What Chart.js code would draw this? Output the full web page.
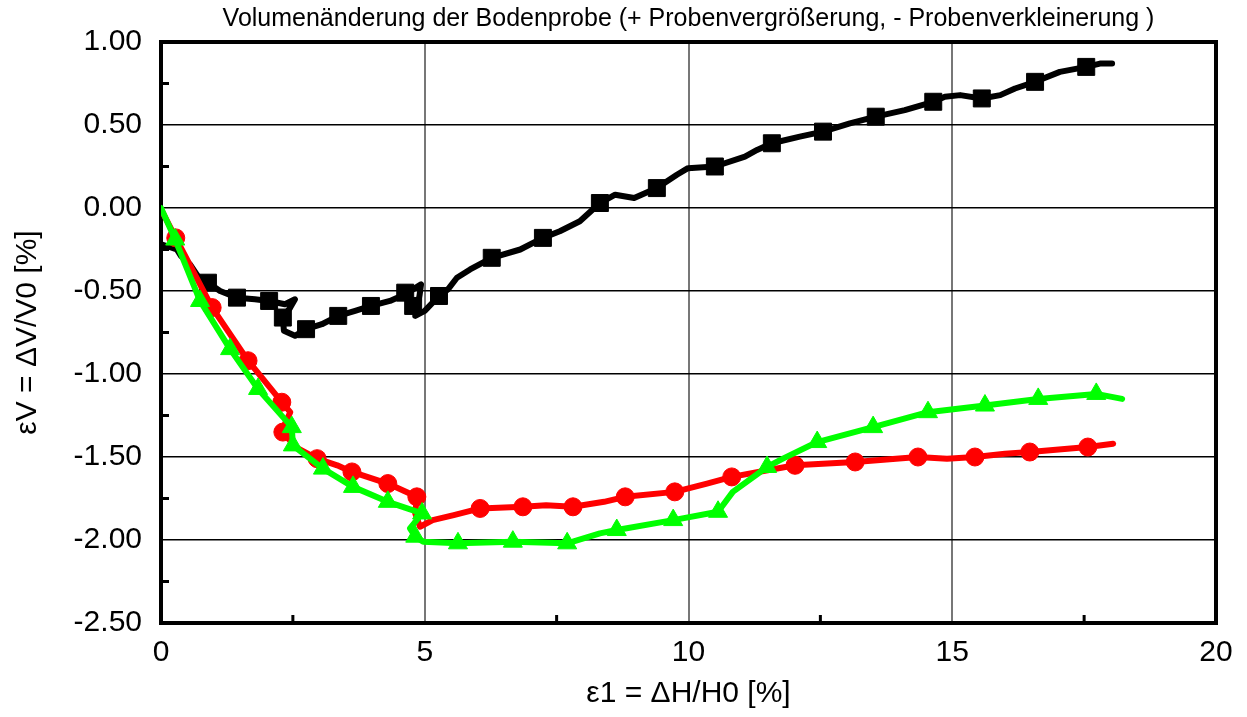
<!DOCTYPE html>
<html lang="de">
<head>
  <meta charset="UTF-8">
  <title>Volumenänderung der Bodenprobe</title>
  <script src="https://cdn.jsdelivr.net/npm/chart.js"></script>
  <style>
    body {
      margin: 0;
      background: #fff;
    }

    #wrap {
      width: 1247px;
      height: 717px;
    }
  </style>
</head>
<body>
  <div id="wrap"><canvas id="volChart"></canvas></div>

  <script>
    // Messkurven (ε1 in %, εV in %)
    const blackX = [0.02, 0.30, 0.38, 0.55, 0.74, 0.89, 1.12, 1.44, 1.78, 2.05, 2.35, 2.54, 2.45, 2.31, 2.33, 2.54, 2.75, 3.05, 3.36, 3.68, 3.98, 4.34, 4.63, 4.93, 4.90, 4.82, 5.00, 5.27, 5.44, 5.61, 5.86, 6.27, 6.81, 7.24, 7.56, 7.94, 8.32, 8.61, 8.97, 9.40, 9.78, 9.99, 10.50, 11.07, 11.30, 11.58, 12.11, 12.55, 13.06, 13.55, 14.10, 14.64, 14.86, 15.15, 15.56, 15.91, 16.19, 16.57, 17.04, 17.54, 17.80, 18.03];
    const blackY = [-0.22, -0.25, -0.29, -0.34, -0.43, -0.45, -0.50, -0.54, -0.55, -0.56, -0.58, -0.55, -0.60, -0.66, -0.74, -0.77, -0.73, -0.70, -0.65, -0.62, -0.59, -0.56, -0.52, -0.46, -0.53, -0.65, -0.62, -0.53, -0.49, -0.42, -0.37, -0.30, -0.25, -0.18, -0.14, -0.08, 0.03, 0.08, 0.06, 0.12, 0.20, 0.24, 0.25, 0.31, 0.35, 0.39, 0.43, 0.46, 0.51, 0.55, 0.59, 0.64, 0.67, 0.68, 0.66, 0.68, 0.72, 0.76, 0.82, 0.85, 0.87, 0.87];
    const blackMarkX = [0.89, 1.44, 2.05, 2.31, 2.75, 3.36, 3.98, 4.63, 4.78, 5.27, 6.27, 7.24, 8.32, 9.40, 10.50, 11.58, 12.55, 13.55, 14.64, 15.56, 16.57, 17.54];
    const blackMarkY = [-0.45, -0.54, -0.56, -0.66, -0.73, -0.65, -0.59, -0.51, -0.59, -0.53, -0.30, -0.18, 0.03, 0.12, 0.25, 0.39, 0.46, 0.55, 0.64, 0.66, 0.76, 0.85];

    const redX = [0.02, 0.28, 0.97, 1.65, 2.29, 2.45, 2.35, 2.31, 2.55, 2.96, 3.34, 3.62, 4.30, 4.85, 4.82, 4.91, 5.15, 5.55, 6.05, 6.86, 7.30, 7.81, 8.40, 8.80, 9.74, 10.35, 10.82, 11.50, 12.02, 13.16, 14.35, 14.90, 15.43, 16.00, 16.47, 17.57, 18.05];
    const redY = [-0.02, -0.18, -0.60, -0.92, -1.17, -1.23, -1.30, -1.35, -1.44, -1.51, -1.55, -1.59, -1.66, -1.74, -1.84, -1.92, -1.88, -1.85, -1.81, -1.80, -1.79, -1.80, -1.77, -1.74, -1.71, -1.66, -1.62, -1.58, -1.55, -1.53, -1.50, -1.51, -1.50, -1.48, -1.47, -1.44, -1.42];
    const redMarkX = [0.28, 0.97, 1.65, 2.29, 2.31, 2.96, 3.62, 4.30, 4.85, 6.05, 6.86, 7.81, 8.80, 9.74, 10.82, 12.02, 13.16, 14.35, 15.43, 16.47, 17.57];
    const redMarkY = [-0.18, -0.60, -0.92, -1.17, -1.35, -1.51, -1.59, -1.66, -1.74, -1.81, -1.80, -1.80, -1.74, -1.71, -1.62, -1.55, -1.53, -1.50, -1.50, -1.47, -1.44];

    const greenX = [0.00, 0.27, 0.74, 1.31, 1.84, 2.48, 2.50, 3.07, 3.64, 4.30, 4.95, 4.72, 4.82, 4.97, 5.63, 6.67, 7.70, 8.32, 8.64, 9.71, 10.56, 10.84, 11.49, 11.79, 12.44, 13.50, 14.54, 15.62, 16.63, 17.73, 18.22];
    const greenY = [0.00, -0.19, -0.56, -0.85, -1.09, -1.32, -1.43, -1.57, -1.68, -1.77, -1.84, -1.93, -1.98, -2.01, -2.02, -2.01, -2.02, -1.96, -1.94, -1.88, -1.83, -1.71, -1.56, -1.51, -1.41, -1.32, -1.23, -1.19, -1.15, -1.12, -1.15];
    const greenMarkX = [0.27, 0.74, 1.31, 1.84, 2.48, 2.50, 3.07, 3.64, 4.30, 4.95, 4.82, 5.63, 6.67, 7.70, 8.64, 9.71, 10.56, 11.49, 12.44, 13.50, 14.54, 15.62, 16.63, 17.73];
    const greenMarkY = [-0.19, -0.56, -0.85, -1.09, -1.32, -1.43, -1.57, -1.68, -1.77, -1.84, -1.98, -2.02, -2.01, -2.02, -1.94, -1.88, -1.83, -1.56, -1.41, -1.32, -1.23, -1.19, -1.15, -1.12];

    // Nebenteilstriche
    const xMinor = [2.5, 7.5, 12.5, 17.5];
    const yMinor = [0.75, 0.25, -0.25, -0.75, -1.25, -1.75, -2.25];

    const pts = (xs, ys) => xs.map((x, i) => ({ x: x, y: ys[i] }));
    const FONT = '"Liberation Sans", Arial, sans-serif';

    // Rahmen und innenliegende Teilstriche
    const framePlugin = {
      id: 'frame',
      beforeDatasetsDraw(chart) {
        const { ctx, chartArea: a, scales: { x, y } } = chart;
        ctx.save();
        ctx.strokeStyle = '#000';
        ctx.lineWidth = 3;
        ctx.beginPath();
        yMinor.forEach(v => {
          const py = y.getPixelForValue(v);
          ctx.moveTo(a.left, py);
          ctx.lineTo(a.left + 8, py);
        });
        xMinor.forEach(v => {
          const px = x.getPixelForValue(v);
          ctx.moveTo(px, a.bottom);
          ctx.lineTo(px, a.bottom - 8);
        });
        ctx.stroke();
        ctx.lineWidth = 4;
        ctx.strokeRect(a.left, a.top, a.right - a.left, a.bottom - a.top);
        ctx.restore();
      }
    };

    const lineSet = (data, color) => ({
      data: data,
      borderColor: color,
      borderWidth: 6,
      borderJoinStyle: 'round',
      borderCapStyle: 'round',
      pointRadius: 0,
      tension: 0,
      fill: false,
      showLine: true
    });

    const markSet = (data, color, style, r) => ({
      data: data,
      showLine: false,
      pointStyle: style,
      pointRadius: r,
      pointBackgroundColor: color,
      pointBorderColor: color,
      pointBorderWidth: 1
    });

    new Chart(document.getElementById('volChart'), {
      type: 'scatter',
      data: {
        datasets: [
          markSet(pts(greenMarkX, greenMarkY), '#00ff00', 'triangle', 11),
          lineSet(pts(greenX, greenY), '#00ff00'),
          markSet(pts(redMarkX, redMarkY), '#ff0000', 'circle', 9),
          lineSet(pts(redX, redY), '#ff0000'),
          markSet(pts(blackMarkX, blackMarkY), '#000000', 'rect', 12),
          lineSet(pts(blackX, blackY), '#000000')
        ]
      },
      options: {
        responsive: true,
        maintainAspectRatio: false,
        animation: false,
        layout: { padding: { left: 0, right: 31, top: 0, bottom: 0 } },
        plugins: {
          legend: { display: false },
          tooltip: { enabled: false },
          title: {
            display: true,
            fullSize: false,
            text: 'Volumenänderung der Bodenprobe (+ Probenvergrößerung, - Probenverkleinerung )',
            color: '#000',
            font: { family: FONT, size: 25, weight: 'normal' },
            padding: { top: 4, bottom: 8 }
          }
        },
        scales: {
          x: {
            type: 'linear',
            min: 0,
            max: 20,
            afterFit: (scale) => { scale.height = 94; },
            ticks: {
              stepSize: 5,
              color: '#000',
              padding: 12,
              font: { family: FONT, size: 30 },
              callback: (v) => String(v)
            },
            grid: { color: '#777', lineWidth: 2, drawTicks: false },
            border: { display: false },
            title: {
              display: true,
              text: 'ε1 = ΔH/H0 [%]',
              color: '#000',
              font: { family: FONT, size: 30 },
              padding: { top: 0, bottom: 5 }
            }
          },
          y: {
            type: 'linear',
            min: -2.5,
            max: 1,
            afterFit: (scale) => { scale.width = 161; },
            ticks: {
              stepSize: 0.5,
              color: '#000',
              padding: 19,
              font: { family: FONT, size: 30 },
              callback: (v) => Number(v).toFixed(2)
            },
            grid: { color: '#000', lineWidth: 1.5, drawTicks: false },
            border: { display: false },
            title: {
              display: true,
              text: 'εV = ΔV/V0 [%]',
              color: '#000',
              font: { family: FONT, size: 30 },
              padding: { top: 10, bottom: 0 }
            }
          }
        }
      },
      plugins: [framePlugin]
    });
  </script>
</body>
</html>
